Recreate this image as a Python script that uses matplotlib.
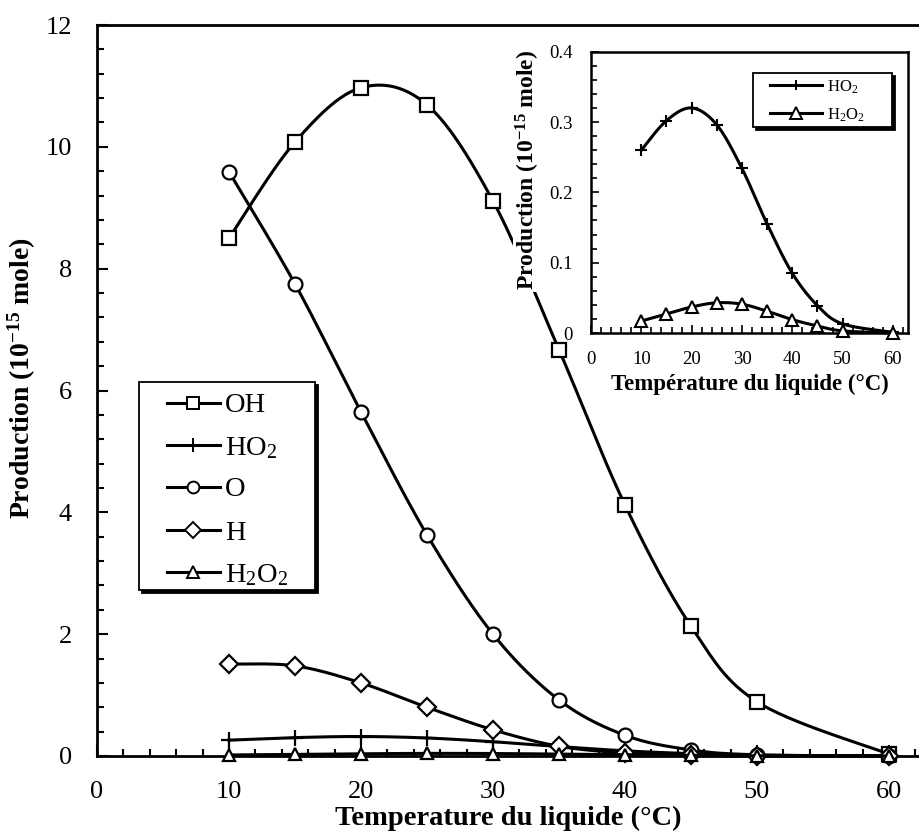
import numpy as np
import matplotlib
matplotlib.use("Agg")
import matplotlib.pyplot as plt
from matplotlib.lines import Line2D
from matplotlib.patches import Rectangle
from matplotlib.ticker import MultipleLocator, FuncFormatter

plt.rcParams['font.family'] = ['Liberation Serif', 'DejaVu Serif']
plt.rcParams['mathtext.fontset'] = 'custom'
plt.rcParams['mathtext.rm'] = 'Liberation Serif'
plt.rcParams['mathtext.bf'] = 'Liberation Serif:bold'
plt.rcParams['mathtext.it'] = 'Liberation Serif:italic'

# ---- data ----
temperature = [10, 15, 20, 25, 30, 35, 40, 45, 50, 60]
oh = [8.50, 10.08, 10.97, 10.69, 9.11, 6.67, 4.12, 2.13, 0.89, 0.03]
ho2 = [0.260, 0.302, 0.320, 0.296, 0.234, 0.155, 0.085, 0.039, 0.013, 0.001]
o = [9.59, 7.75, 5.65, 3.63, 2.00, 0.92, 0.34, 0.10, 0.02, 0.0]
h = [1.51, 1.48, 1.20, 0.80, 0.43, 0.16, 0.05, 0.01, 0.0, 0.0]
h2o2 = [0.017, 0.027, 0.037, 0.043, 0.041, 0.031, 0.019, 0.010, 0.003, 0.0]

labels = ['OH', 'HO$_2$', 'O', 'H', 'H$_2$O$_2$']
markers = ['s', '+', 'o', 'D', '^']
inset_labels = ['HO$_2$', 'H$_2$O$_2$']
inset_markers = ['+', '^']


def smooth(x, y, n=30):
    """Excel-like smoothed line (uniform Catmull-Rom / Bezier)."""
    P = np.column_stack([x, y]).astype(float)
    Pe = np.vstack([P[0], P, P[-1]])
    out = []
    t = np.linspace(0, 1, n)[:, None]
    for i in range(len(P) - 1):
        p0, p1, p2, p3 = Pe[i], Pe[i + 1], Pe[i + 2], Pe[i + 3]
        b1 = p1 + (p2 - p0) / 6.0
        b2 = p2 - (p3 - p1) / 6.0
        seg = ((1 - t) ** 3) * p1 + 3 * ((1 - t) ** 2) * t * b1 + 3 * (1 - t) * t ** 2 * b2 + t ** 3 * p2
        out.append(seg if i == 0 else seg[1:])
    s = np.vstack(out)
    return s[:, 0], s[:, 1]


W, H = 920, 835
fig = plt.figure(figsize=(W / 100, H / 100), dpi=100)


def fx(px):
    return px / W


def fy(py):
    return 1 - py / H


def legend_box(x0, y0, x1, y1, lw=1.3, off=3):
    fig.patches.append(Rectangle((fx(x0 + off), fy(y1 + off)), fx(x1 - x0), (y1 - y0) / H,
                                 transform=fig.transFigure, facecolor='black',
                                 edgecolor='black', lw=lw, zorder=20))
    fig.patches.append(Rectangle((fx(x0), fy(y1)), fx(x1 - x0), (y1 - y0) / H,
                                 transform=fig.transFigure, facecolor='white',
                                 edgecolor='black', lw=lw, zorder=21))


def legend_entries(xl0, xl1, xt, ys, labs, marks, msz, fs, lw):
    for yc, lab, m, ms in zip(ys, labs, marks, msz):
        fig.add_artist(Line2D([fx(xl0), fx(xl1)], [fy(yc), fy(yc)], transform=fig.transFigure,
                              color='black', lw=lw, zorder=22))
        fig.add_artist(Line2D([fx((xl0 + xl1) / 2)], [fy(yc)], transform=fig.transFigure,
                              linestyle='none', marker=m, ms=ms, mfc='white', mec='black',
                              mew=1.4, zorder=23))
        fig.text(fx(xt), fy(yc), lab, ha='left', va='center_baseline', fontsize=fs, zorder=24)


# ---- main axes ----
ax = fig.add_axes([fx(97), fy(756), fx(920 - 97), (756 - 25) / H])
ax.set_xlim(0, 62.35)
ax.set_ylim(0, 12)

series = [oh, ho2, o, h, h2o2]
msizes = [9.5, 11, 10, 9, 9]
for i, (ys, m, ms) in enumerate(zip(series, markers, msizes)):
    sx, sy = smooth(temperature, ys)
    ax.plot(sx, sy, color='black', lw=2.2, zorder=2 + i, clip_on=False)
    ax.plot(temperature, ys, linestyle='none', marker=m, ms=ms, mfc='white',
            mec='black', mew=1.6, zorder=2.5 + i, clip_on=False)

ax.xaxis.set_major_locator(MultipleLocator(10))
ax.xaxis.set_minor_locator(MultipleLocator(2))
ax.yaxis.set_major_locator(MultipleLocator(2))
ax.yaxis.set_minor_locator(MultipleLocator(0.4))
ax.tick_params(axis='both', which='both', direction='in', width=1.5, labelsize=19)
ax.tick_params(which='major', length=8)
ax.tick_params(which='minor', length=5)
ax.tick_params(axis='both', which='both', pad=18)
ax.tick_params(top=False, right=False)
for sp in ['left', 'bottom', 'top']:
    ax.spines[sp].set_linewidth(2)
ax.spines['right'].set_visible(False)

fig.text(fx(508), fy(818), 'Temperature du liquide (°C)', ha='center', va='center',
         fontsize=20.5, fontweight='bold')
fig.text(fx(22), fy(378), r'Production (10$^{\mathbf{-15}}$ mole)', ha='center', va='center',
         rotation=90, fontsize=20, fontweight='bold')

# main legend (frame + entries)
legend_box(139, 382, 315, 590)
legend_entries(167, 220, 225, [403, 445, 487, 530, 572], labels, markers,
               [8, 10, 8.5, 8.5, 8], 20.5, 2.2)

# ---- inset ----
ia = fig.add_axes([fx(591), fy(333), fx(908 - 591), (333 - 51.7) / H])
ia.set_xlim(0, 63.0)
ia.set_ylim(0, 0.4)
for ys, m, ms in [(ho2, '+', 9), (h2o2, '^', 8)]:
    sx, sy = smooth(temperature, ys)
    ia.plot(sx, sy, color='black', lw=2.2, zorder=3, clip_on=False)
    ia.plot(temperature, ys, linestyle='none', marker=m, ms=ms, mfc='white',
            mec='black', mew=1.5, zorder=4, clip_on=False)
ia.xaxis.set_major_locator(MultipleLocator(10))
ia.xaxis.set_minor_locator(MultipleLocator(2))
ia.yaxis.set_major_locator(MultipleLocator(0.1))
ia.yaxis.set_minor_locator(MultipleLocator(0.02))
ia.yaxis.set_major_formatter(FuncFormatter(lambda v, p: '0' if abs(v) < 1e-9 else f'{v:.1f}'))
ia.tick_params(axis='both', which='both', direction='in', width=1.2, labelsize=13.5)
ia.tick_params(which='major', length=6)
ia.tick_params(which='minor', length=4)
ia.tick_params(top=False, right=False, pad=13)
for sp in ia.spines.values():
    sp.set_linewidth(1.8)

fig.text(fx(750), fy(384), 'Température du liquide (°C)', ha='center', va='center',
         fontsize=16.5, fontweight='bold')
fig.text(fx(528), fy(170), r'Production (10$^{\mathbf{-15}}$ mole)', ha='center', va='center',
         rotation=90, fontsize=17, fontweight='bold',
         bbox=dict(facecolor='white', edgecolor='none', pad=1))

# inset legend
legend_box(753, 73, 892, 127, lw=1.3, off=3)
legend_entries(770, 822, 827, [85, 113], inset_labels, inset_markers, [7, 8], 12, 2.2)

fig.savefig('out.png', dpi=100)
